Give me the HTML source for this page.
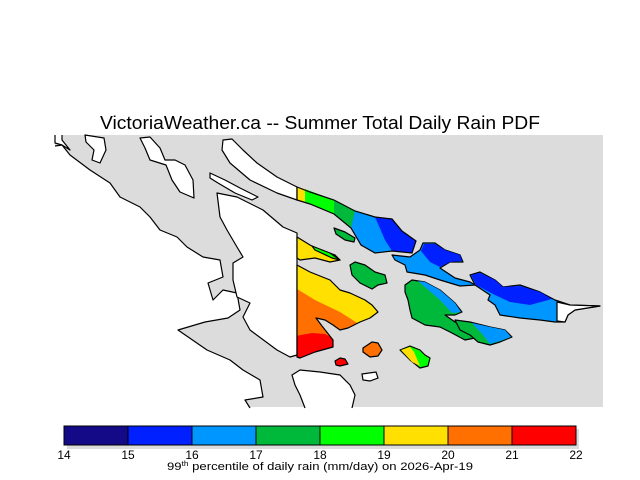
<!DOCTYPE html>
<html><head><meta charset="utf-8"><style>
html,body{margin:0;padding:0;background:#fff;width:640px;height:480px;overflow:hidden}
svg{display:block}
text{font-family:"Liberation Sans",sans-serif;fill:#000}
</style></head><body>
<svg width="640" height="480" viewBox="0 0 640 480" xmlns="http://www.w3.org/2000/svg">
<defs>
<clipPath id="cl"><polygon points="297,265 310,272 330,280 340,290 350,293 365,300 372,305 378,312 370,318 360,322 348,328 340,330 333,325 325,320 316,318 322,326 333,340 333,347 315,352 300,358 297,357"/></clipPath>
</defs>
<text x="100" y="129" font-size="18" textLength="440" lengthAdjust="spacingAndGlyphs">VictoriaWeather.ca -- Summer Total Daily Rain PDF</text>
<rect x="55" y="135" width="548" height="272" fill="#dcdcdc"/>
<!-- SW land fill -->
<polygon fill="#fff" points="55,146 62,145 70,155 90,170 110,183 120,197 140,207 150,217 160,230 177,237 187,247 203,257 220,260 223,277 208,283 213,300 223,290 237,293 240,310 228,318 205,322 178,330 207,350 230,360 243,370 260,380 263,397 245,400 250,408 40,408 40,146"/>
<polygon fill="#fff" points="55,135 55,143 62,145 70,150 62,140 62,135"/>
<g stroke="#000" stroke-width="1.2" stroke-linejoin="round" fill="none">
<polyline points="55,146 62,145 70,155 90,170 110,183 120,197 140,207 150,217 160,230 177,237 187,247 203,257 220,260 223,277 208,283 213,300 223,290 237,293 240,310 228,318 205,322 178,330 207,350 230,360 243,370 260,380 263,397 245,400 250,408"/>
<polyline points="55,135 55,143 62,145 70,150 62,140 62,135"/>
</g>
<g stroke="#000" stroke-width="1.2" stroke-linejoin="round">
<polygon fill="#fff" points="85,135 104,138 106,150 100,163 92,160 94,150 86,142"/>
<polygon fill="#fff" points="140,138 150,137 160,148 165,160 175,160 185,165 193,180 194,198 180,192 172,180 166,165 150,160 145,148"/>
<polygon fill="#fff" points="210,173 225,180 240,188 258,197 252,200 235,193 218,183 210,178"/>
<polygon fill="#fff" points="223,140 232,139 243,150 257,163 277,177 297,187 297,200 277,193 250,180 230,163 222,150"/>
<polygon fill="#fff" points="217,193 237,197 263,210 283,227 297,233 297,355 290,357 277,350 250,330 243,317 250,303 237,297 233,280 233,263 243,257 237,247 227,230 220,217"/>
</g>
<polygon fill="#fff" points="292,375 300,370 320,372 340,375 350,385 355,395 352,408 305,408 300,395 295,385"/>
<polyline fill="none" stroke="#000" stroke-width="1.2" points="305,408 300,395 295,385 292,375 300,370 320,372 340,375 350,385 355,395 352,408"/>
<polygon fill="#fff" stroke="#000" stroke-width="1.2" points="362,374 376,372 378,378 370,381 363,380"/>
<!-- top colored strip -->
<g stroke="none">
<polygon fill="#00b93a" points="297,187 310,192 334,200 355,211 375,217 392,219 402,231 409,236 416,241 412,253 392,251 375,253 361,245 351,228 334,214 310,204 297,200"/>
<polygon fill="#00ff00" points="305,189 334,200 334,214 310,204 305,202"/>
<polygon fill="#ffe000" points="297,187 305,189 305,202 297,200"/>
<polygon fill="#0096ff" points="355,211 375,217 392,219 402,231 409,236 416,241 412,253 392,251 375,253 361,245 351,228"/>
<polygon fill="#0020ff" points="375,217 392,219 402,231 409,236 416,241 412,253 392,251 385,240"/>
</g>
<polygon fill="none" stroke="#000" stroke-width="1.2" points="297,187 310,192 334,200 355,211 375,217 392,219 402,231 409,236 416,241 412,253 392,251 375,253 361,245 351,228 334,214 310,204 297,200"/>
<!-- main colored land -->
<g clip-path="url(#cl)">
<rect x="290" y="260" width="100" height="100" fill="#ff7000"/>
<polygon fill="#ffe000" points="290,260 390,260 390,330 365,328 340,312 315,300 297,289 290,289"/>
<polygon fill="#ff0000" points="290,337 312,333 325,334 333,338 340,360 290,360"/>
</g>
<polygon fill="none" stroke="#000" stroke-width="1.2" stroke-linejoin="round" points="297,265 310,272 330,280 340,290 350,293 365,300 372,305 378,312 370,318 360,322 348,328 340,330 333,325 325,320 316,318 322,326 333,340 333,347 315,352 300,358 297,357"/>
<g stroke="#000" stroke-width="1.2" stroke-linejoin="round">
<polygon fill="#ffe000" points="297,237 310,245 320,250 335,255 340,260 330,262 315,258 300,260 297,258"/>
<polygon fill="#00ff00" points="312,246 330,253 340,260 332,258 315,250"/>
<polygon fill="#00b93a" points="334,228 345,232 355,238 354,242 345,240 336,234"/>
<polygon fill="#00b93a" points="350,265 355,262 365,265 375,272 385,275 387,283 378,285 372,289 360,283 352,275"/>
<polygon fill="#0096ff" points="392,255 410,257 420,250 423,243 435,243 445,250 460,255 463,262 450,262 440,268 455,278 470,282 475,285 460,286 440,280 425,275 407,272 405,265 395,260"/>
<polygon fill="#0020ff" stroke="none" points="421,251 424,244 435,244 445,250 460,255 462,261 450,262 440,267 430,262"/>
<polygon fill="#00b93a" points="405,285 412,280 425,282 440,290 455,303 462,312 455,315 445,315 455,322 470,330 475,338 465,340 450,332 440,327 425,325 412,318 410,310 408,300 405,292"/>
<polygon fill="#0096ff" stroke="none" points="418,281 425,282 440,290 455,303 461,312 452,313 440,300"/>
<polygon fill="#00b93a" points="455,320 470,322 490,327 505,330 512,337 500,342 490,345 478,342 470,335 460,330"/>
<polygon fill="#0096ff" stroke="none" points="472,323 490,327 505,330 511,337 500,341 490,344 483,335"/>
<polygon fill="#0096ff" points="470,275 480,272 495,280 503,287 520,285 540,292 555,300 570,305 600,306 575,310 568,315 565,322 555,322 540,320 520,318 500,315 495,305 488,300 490,295 475,285"/>
<polygon fill="#0020ff" stroke="none" points="471,275 480,273 495,280 503,287 520,286 540,292 552,299 530,305 510,302 495,295 476,285"/>
<polygon fill="#fff" points="557,302 570,305 600,306 575,310 568,315 565,322 557,321"/>
<polygon fill="#ff7000" points="363,348 372,342 378,343 382,350 378,356 370,357 363,352"/>
<polygon fill="#ff0000" points="335,361 340,358 345,359 348,364 340,366 336,365"/>
<polygon fill="#00ff00" points="400,350 410,346 420,350 425,355 430,358 428,366 420,368 410,360"/>
<polygon fill="#ffe000" stroke="none" points="401,350 410,347 414,352 420,366 412,362"/>
</g>
<!-- colorbar -->
<rect x="67" y="429" width="512" height="20" fill="#dcdcdc"/>
<g stroke="#000" stroke-width="1">
<rect x="64" y="426" width="64" height="19" fill="#140a88"/>
<rect x="128" y="426" width="64" height="19" fill="#0020ff"/>
<rect x="192" y="426" width="64" height="19" fill="#0096ff"/>
<rect x="256" y="426" width="64" height="19" fill="#00b93a"/>
<rect x="320" y="426" width="64" height="19" fill="#00ff00"/>
<rect x="384" y="426" width="64" height="19" fill="#ffe000"/>
<rect x="448" y="426" width="64" height="19" fill="#ff7000"/>
<rect x="512" y="426" width="64" height="19" fill="#ff0000"/>
</g>
<g font-size="12" text-anchor="middle">
<text x="64" y="459">14</text><text x="128" y="459">15</text><text x="192" y="459">16</text><text x="256" y="459">17</text><text x="320" y="459">18</text><text x="384" y="459">19</text><text x="448" y="459">20</text><text x="512" y="459">21</text><text x="576" y="459">22</text>
</g>
<text x="167" y="470" font-size="11" textLength="306" lengthAdjust="spacingAndGlyphs">99<tspan font-size="7" dy="-4">th</tspan><tspan dy="4"> percentile of daily rain (mm/day) on 2026-Apr-19</tspan></text>
</svg>
</body></html>
